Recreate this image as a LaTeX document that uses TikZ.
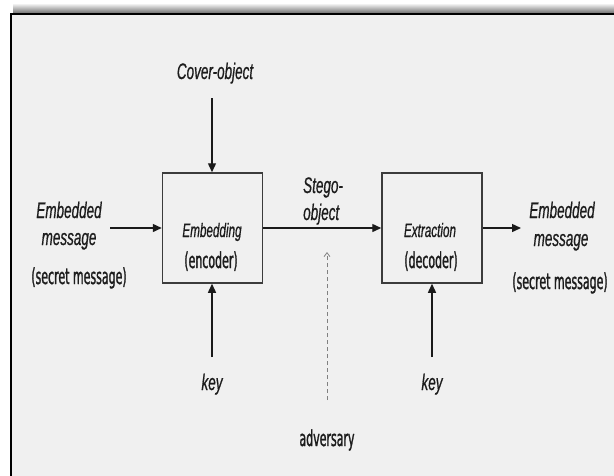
\documentclass[tikz,border=0pt]{standalone}
\usepackage{fontspec}
\setmainfont{Liberation Sans}
\newfontfamily\itfont{Liberation Sans}[FakeStretch=0.6,FakeBold=0.6]
\newfontfamily\cmfont{DejaVu Sans}[FakeStretch=0.5,FakeBold=1.2]
\usetikzlibrary{arrows.meta}
\definecolor{bgc}{HTML}{F0F0F0}
\definecolor{txt}{HTML}{1C1C1C}
\definecolor{ln}{HTML}{1A1A1A}
\tikzset{
  lbl/.style={inner sep=0pt, anchor=base, text=txt, font=\itfont\itshape\fontsize{22.5}{24}\selectfont},
  inlbl/.style={inner sep=0pt, anchor=base, text=txt, font=\itfont\itshape\fontsize{19.5}{21}\selectfont},
  cmlbl/.style={inner sep=0pt, anchor=base, text=txt, font=\cmfont\fontsize{22}{24}\selectfont},
  procbox/.style={draw=ln!85, line width=1.5pt, minimum width=100pt, minimum height=110pt, inner sep=0pt},
  arr/.style={draw=ln, line width=1.4pt, -{Triangle[length=9pt,width=8pt]}},
  advarr/.style={draw=gray, line width=0.8pt, dash pattern=on 4pt off 3pt, -{Straight Barb[length=4pt,width=6pt]}}
}
\begin{document}
\begin{tikzpicture}[x=1pt,y=-1pt]
\useasboundingbox (0,0) rectangle (614,475);
\clip (0,0) rectangle (614,475);
\fill[white] (0,0) rectangle (614,475);
\shade[top color=white, bottom color=black!55] (13,3) rectangle (620,13);
\fill[bgc] (11,14) rectangle (620,480);
\draw[black, line width=2pt] (11,480) -- (11,14) -- (620,14);

% boxes
\node[procbox] (enc) at (212.5,228) {};
\node[procbox] (ext) at (432,228) {};
\node[inlbl] (encA) at (212,237) {Embedding};
\node[cmlbl] (encB) at (211,268) {(encoder)};
\node[inlbl] (extA) at (430,237) {Extraction};
\node[cmlbl] (extB) at (431,268) {(decoder)};

% labels
\node[lbl] (cov) at (215,79) {Cover-object};
\node[lbl] (inm1) at (69,218) {Embedded};
\node[lbl] (inm2) at (69,245) {message};
\node[cmlbl] (inm3) at (79,284) {(secret message)};
\node[lbl, anchor=base west] (st1) at (303,193) {Stego-};
\node[lbl, anchor=base west] (st2) at (303,220) {object};
\node[lbl] (outm1) at (562,218) {Embedded};
\node[lbl] (outm2) at (561,246) {message};
\node[cmlbl] (outm3) at (560,289) {(secret message)};
\node[lbl] (key1) at (212,390) {key};
\node[lbl] (key2) at (432,390) {key};
\node[cmlbl] (adv) at (327,446) {adversary};

% free ends
\coordinate (covS) at (212,98);
\coordinate (inS) at (110,228);
\coordinate (outE) at (521,228);
\coordinate (k1S) at (212,357);
\coordinate (k2S) at (432,357);
\coordinate (advS) at (327,400);
\coordinate (advE) at (327,252);

% connectors
\draw[arr] (covS) -- (covS |- enc.north);
\draw[arr] (inS) -- (enc.west);
\draw[arr] (enc.east) -- (ext.west);
\draw[arr] (ext.east) -- (outE);
\draw[arr] (k1S) -- (k1S |- enc.south);
\draw[arr] (k2S) -- (k2S |- ext.south);
\draw[advarr] (advS) -- (advE);
\end{tikzpicture}
\end{document}
